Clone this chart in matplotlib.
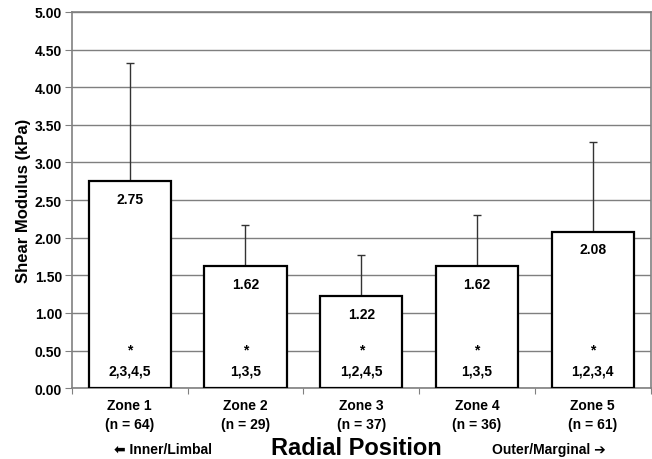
import matplotlib
matplotlib.use("Agg")
import matplotlib.pyplot as plt
import numpy as np

plt.rcParams['font.family'] = ['Liberation Sans', 'DejaVu Sans']
plt.rcParams['font.weight'] = 'bold'

zonas = ["Zone 1", "Zone 2", "Zone 3", "Zone 4", "Zone 5"]
n_muestras = [64, 29, 37, 36, 61]
modulo = [2.75, 1.62, 1.22, 1.62, 2.08]
desv = [1.57, 0.55, 0.55, 0.68, 1.19]
signif = ["2,3,4,5", "1,3,5", "1,2,4,5", "1,3,5", "1,2,3,4"]

fig = plt.figure(figsize=(6.52, 4.60), dpi=100)
ax = fig.add_axes([0.110, 0.154, 0.888, 0.818])

x = np.arange(len(zonas))
ax.bar(x, modulo, width=0.71, color="white", edgecolor="black", linewidth=1.6, zorder=3)
ax.errorbar(x, modulo, yerr=[np.zeros(len(desv)), desv], fmt="none",
            ecolor="#333333", elinewidth=1.0, capsize=3, capthick=1.0, zorder=2)

for i in range(len(zonas)):
    ax.annotate(f"{modulo[i]:.2f}", (x[i], modulo[i]), xytext=(0, -12.5),
                textcoords="offset points", ha="center", va="center",
                fontsize=10, fontweight="bold", zorder=4)
    ax.text(x[i], 0.52, "*", ha="center", va="center", fontsize=10, fontweight="bold", zorder=4)
    ax.text(x[i], 0.24, signif[i], ha="center", va="center", fontsize=10, fontweight="bold", zorder=4)

ax.set_xlim(-0.5, len(zonas) - 0.5)
ax.set_ylim(0, 5)
ax.set_yticks(np.arange(0, 5.01, 0.5))
ax.set_yticklabels([f"{v:.2f}" for v in np.arange(0, 5.01, 0.5)], fontsize=10, fontweight="bold")
ax.yaxis.grid(True, color="#7f7f7f", linewidth=1.0, zorder=0)
ax.set_axisbelow(True)

ax.set_xticks(np.arange(-0.5, len(zonas), 1.0))
ax.set_xticklabels([])
ax.tick_params(axis="x", direction="out", length=4, color="#808080")
ax.tick_params(axis="y", direction="out", length=5, color="#808080", pad=2)
for i in range(len(zonas)):
    ax.text(x[i], -0.355, f"{zonas[i]}\n(n = {n_muestras[i]})", ha="center", va="center",
            fontsize=10, fontweight="bold", linespacing=1.45, transform=ax.transData, clip_on=False)

for s in ax.spines.values():
    s.set_color("#808080")
    s.set_linewidth(1.2)

ax.set_ylabel("Shear Modulus (kPa)", fontsize=12, fontweight="bold", labelpad=3)

# flechas mas gruesas como en el original
fig.text(163 / 652, 1 - 450 / 460, "⬅ Inner/Limbal", ha="center", va="center",
         fontsize=10, fontweight="bold", family=['Liberation Sans', 'DejaVu Sans'])
fig.text(356 / 652, 1 - 449 / 460, "Radial Position", ha="center", va="center",
         fontsize=17, fontweight="bold")
fig.text(549 / 652, 1 - 450 / 460, "Outer/Marginal ➔", ha="center", va="center",
         fontsize=10, fontweight="bold", family=['Liberation Sans', 'DejaVu Sans'])

fig.savefig("out.png", dpi=100)
